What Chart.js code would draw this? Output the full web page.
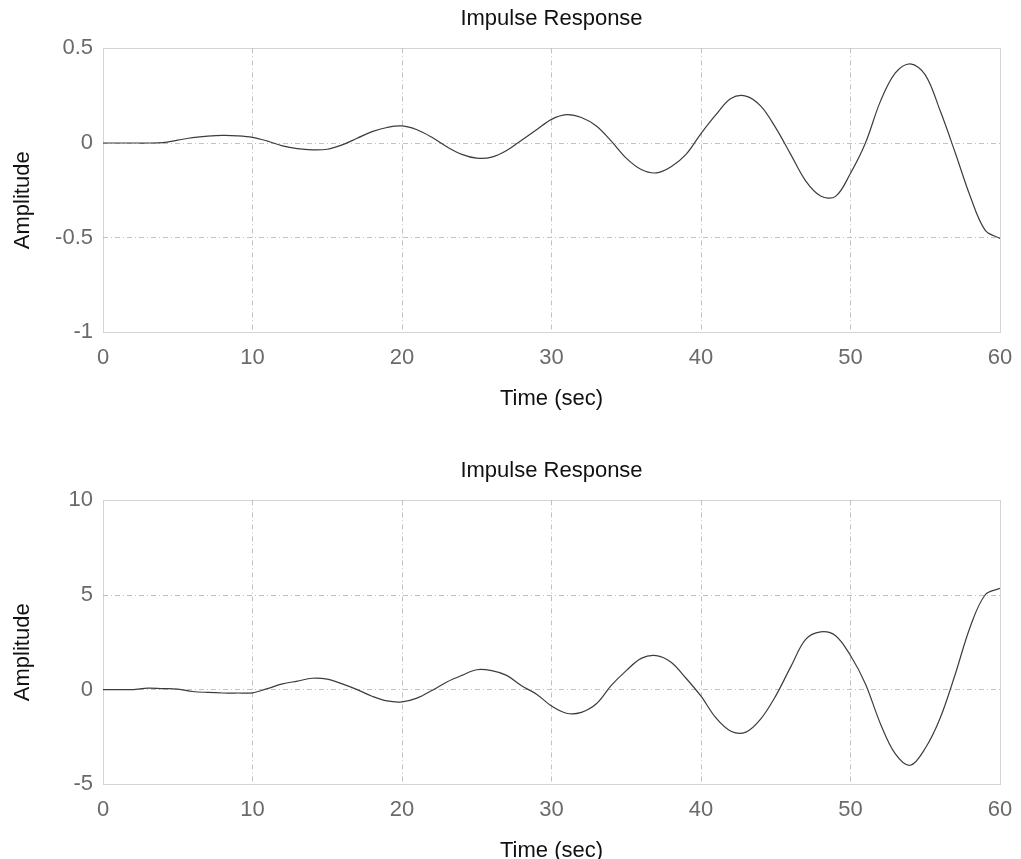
<!DOCTYPE html>
<html><head><meta charset="utf-8">
<script src="https://cdn.jsdelivr.net/npm/chart.js@4/dist/chart.umd.min.js"></script>
<style>
html,body{margin:0;padding:0;background:#fff;overflow:hidden;width:1021px;height:859px;}
.wrap{position:absolute;left:0;width:1021px;height:420px;}
</style></head><body>
<div class="wrap" style="top:0"><canvas id="c1" width="1021" height="420"></canvas></div>
<div class="wrap" style="top:452px"><canvas id="c2" width="1021" height="420"></canvas></div>
<script>
const timeSec = [0,1,2,3,4,5,6,7,8,9,10,11,12,13,14,15,16,17,18,19,20,21,22,23,24,25,26,27,28,29,30,31,32,33,34,35,36,37,38,39,40,41,42,43,44,45,46,47,48,49,50,51,52,53,54,55,56,57,58,59,60];
const amplitudeTop = [0,0,0,0,0.002,0.015,0.028,0.036,0.04,0.038,0.03,0.01,-0.015,-0.03,-0.036,-0.033,-0.01,0.025,0.06,0.082,0.09,0.07,0.03,-0.02,-0.06,-0.08,-0.075,-0.04,0.015,0.07,0.125,0.15,0.135,0.09,0.01,-0.08,-0.14,-0.158,-0.125,-0.06,0.05,0.15,0.235,0.248,0.195,0.08,-0.06,-0.2,-0.28,-0.282,-0.16,0.0,0.22,0.37,0.418,0.36,0.17,-0.05,-0.28,-0.46,-0.505];
const amplitudeBottom = [0,0,0,0.08,0.05,0.03,-0.1,-0.15,-0.18,-0.18,-0.17,0.05,0.3,0.45,0.6,0.55,0.3,0.0,-0.35,-0.6,-0.65,-0.45,-0.05,0.4,0.75,1.05,1.0,0.75,0.2,-0.24,-0.87,-1.25,-1.2,-0.75,0.22,1.0,1.65,1.8,1.45,0.6,-0.35,-1.5,-2.2,-2.25,-1.55,-0.33,1.2,2.65,3.05,2.85,1.8,0.3,-1.8,-3.4,-4.0,-3.1,-1.5,0.8,3.3,5.0,5.35];
const xTicks = [0,10,20,30,40,50,60];
const yTicksTop = [-1,-0.5,0,0.5];
const yTicksBottom = [-5,0,5,10];
const chartTitle = 'Impulse Response';
const xTitle = 'Time (sec)';
const yTitle = 'Amplitude';

const FONT = "'Liberation Sans', Arial, Helvetica, sans-serif";

const boxPlugin = {
  id: 'box',
  beforeDatasetsDraw(chart) {
    const a = chart.chartArea, ctx = chart.ctx;
    ctx.save();
    ctx.setLineDash([1,1]);
    ctx.strokeStyle = '#a8a8a8';
    ctx.lineWidth = 1;
    ctx.strokeRect(Math.round(a.left)+0.5, Math.round(a.top)+0.5, Math.round(a.right-a.left), Math.round(a.bottom-a.top));
    ctx.restore();
  },
  afterDraw(chart) {
    const a = chart.chartArea, ctx = chart.ctx;
    ctx.save();
    ctx.translate(23, (a.top + a.bottom) / 2 + 10);
    ctx.rotate(-Math.PI / 2);
    ctx.font = '22px ' + FONT;
    ctx.fillStyle = '#111';
    ctx.textAlign = 'center';
    ctx.textBaseline = 'middle';
    ctx.fillText(yTitle, 0, 0);
    ctx.restore();
  }
};

function gridColor(c) {
  const s = c.scale;
  if (!c.tick) return 'rgba(0,0,0,0)';
  if (c.tick.value === s.min || c.tick.value === s.max) return 'rgba(0,0,0,0)';
  return '#c2c2c2';
}

function makeChart(id, values, yTicks) {
  const yMin = Math.min(...yTicks), yMax = Math.max(...yTicks);
  return new Chart(document.getElementById(id), {
    type: 'line',
    data: {
      datasets: [{
        data: timeSec.map((t, i) => ({x: t, y: values[i]})),
        borderColor: '#3c3c3c',
        borderWidth: 1.2,
        pointRadius: 0,
        tension: 0.35,
        fill: false
      }]
    },
    plugins: [boxPlugin],
    options: {
      responsive: false,
      animation: false,
      layout: {padding: {left: 0, right: 21, top: 0, bottom: 8}},
      plugins: {
        legend: {display: false},
        tooltip: {enabled: false},
        title: {
          display: true, text: chartTitle, fullSize: false,
          color: '#111', font: {family: FONT, size: 22, weight: 'normal'},
          padding: {top: 6, bottom: 16}
        }
      },
      scales: {
        x: {
          type: 'linear', min: 0, max: 60,
          afterBuildTicks: s => { s.ticks = xTicks.map(v => ({value: v})); },
          afterFit: s => { s.paddingLeft = 0; s.paddingRight = 0; },
          ticks: {color: '#6a6a6a', font: {family: FONT, size: 22}, padding: 13, maxRotation: 0,
                  callback: v => String(v)},
          grid: {color: gridColor, drawTicks: false, lineWidth: 1},
          border: {display: false, dash: [5,3,1,3]},
          title: {display: true, text: xTitle, color: '#111', font: {family: FONT, size: 22}, padding: {top: 1, bottom: 0}}
        },
        y: {
          type: 'linear', min: yMin, max: yMax,
          afterBuildTicks: s => { s.ticks = yTicks.map(v => ({value: v})); },
          afterFit: s => { s.width = 103; },
          ticks: {color: '#6a6a6a', font: {family: FONT, size: 22}, padding: 10,
                  callback: v => String(v)},
          grid: {color: gridColor, drawTicks: false, lineWidth: 1},
          border: {display: false, dash: [5,3,1,3]},
          title: {display: false}
        }
      }
    }
  });
}

makeChart('c1', amplitudeTop, yTicksTop);
makeChart('c2', amplitudeBottom, yTicksBottom);
</script>
</body></html>
